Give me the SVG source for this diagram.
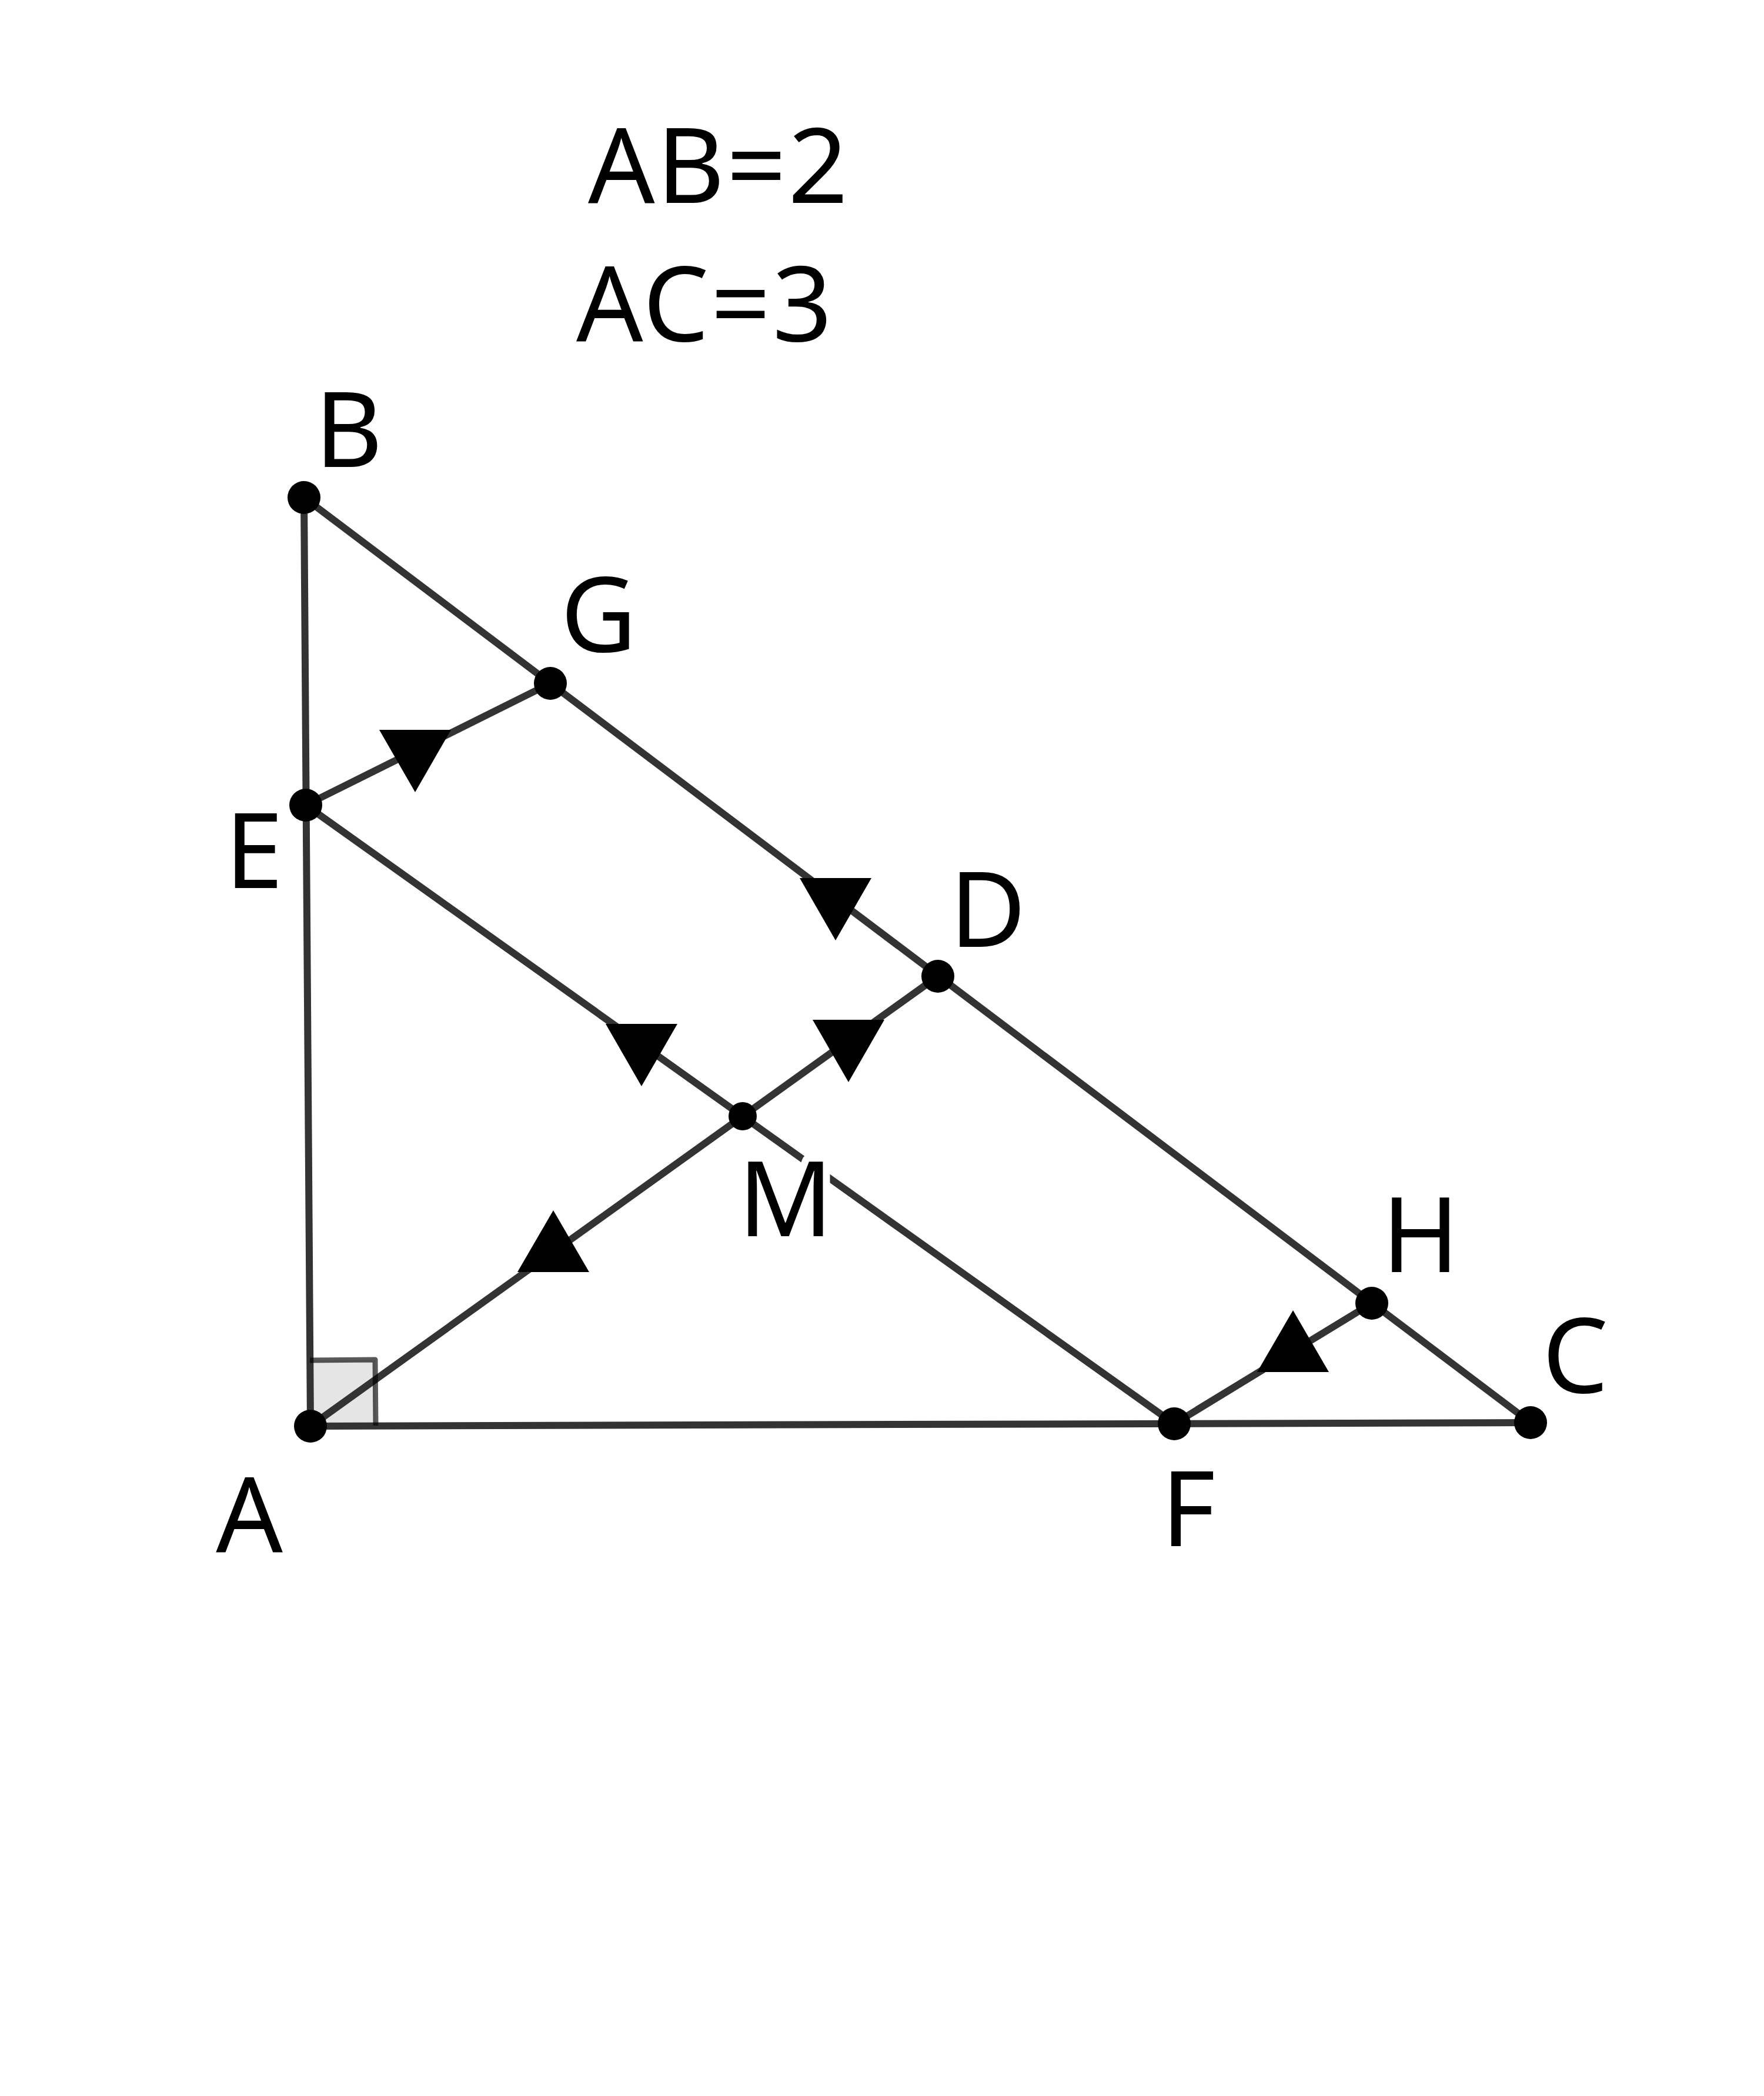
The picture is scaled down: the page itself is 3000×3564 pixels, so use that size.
<svg xmlns="http://www.w3.org/2000/svg" xmlns:xlink="http://www.w3.org/1999/xlink" width="3000" height="3564" viewBox="0 0 3000 3564">
<style>
.seg{stroke:#333333;stroke-width:12;fill:none;stroke-linecap:round}
.dot{fill:#000000}
.lbl{font-family:"Noto Sans","Open Sans","DejaVu Sans",sans-serif;font-size:178px;fill:#000000;text-anchor:middle}
.eq{font-family:"Noto Sans","Open Sans","DejaVu Sans",sans-serif;font-size:178px;fill:#000000;letter-spacing:3px}
.halo{stroke:#ffffff;stroke-width:24px;paint-order:stroke;stroke-linejoin:round}
.arr{fill:#000000}
</style>
<defs>
<polygon id="triDown" points="-61,-35 61,-35 0,71"/>
<polygon id="triUp" points="0,-70 -61,35 61,35"/>
</defs>
<rect width="3000" height="3564" fill="#ffffff"/>

<g id="texts">
<text class="eq" x="1000" y="345">AB=2</text>
<text class="eq" x="980" y="580">AC=3</text>
</g>

<g id="right-angle">
<polygon points="528,2425 527,2313 638,2312 639,2424" fill="#000000" fill-opacity="0.1" stroke="none"/>
</g>

<g id="connectors">
<line class="seg" x1="528" y1="2425" x2="517" y2="846"/>
<line class="seg" x1="517" y1="846" x2="2603" y2="2419"/>
<line class="seg" x1="528" y1="2425" x2="2603" y2="2419"/>
<line class="seg" x1="520" y1="1369" x2="936" y2="1162"/>
<line class="seg" x1="520" y1="1369" x2="1997" y2="2421"/>
<line class="seg" x1="528" y1="2425" x2="1595" y2="1660"/>
<line class="seg" x1="1997" y1="2421" x2="2333" y2="2216"/>
<use class="arr" xlink:href="#triDown" x="706" y="1276"/>
<use class="arr" xlink:href="#triDown" x="1421" y="1528"/>
<use class="arr" xlink:href="#triDown" x="1091" y="1776"/>
<use class="arr" xlink:href="#triDown" x="1443" y="1769"/>
<use class="arr" xlink:href="#triUp" x="941" y="2128"/>
<use class="arr" xlink:href="#triUp" x="2199" y="2298"/>
</g>

<g id="right-angle-edge">
<polyline points="527,2313 638,2312 639,2424" fill="none" stroke="#000000" stroke-opacity="0.65" stroke-width="9" stroke-linejoin="round"/>
</g>

<g id="node-A"><circle class="dot" cx="528" cy="2425" r="28"/><text class="lbl" x="424" y="2639">A</text></g>
<g id="node-B"><circle class="dot" cx="517" cy="846" r="28"/><text class="lbl" x="593" y="794">B</text></g>
<g id="node-C"><circle class="dot" cx="2603" cy="2419" r="28"/><text class="lbl" x="2679" y="2368">C</text></g>
<g id="node-D"><circle class="dot" cx="1595" cy="1660" r="28"/><text class="lbl" x="1680" y="1610">D</text></g>
<g id="node-E"><circle class="dot" cx="520" cy="1369" r="28"/><text class="lbl" x="432" y="1510">E</text></g>
<g id="node-F"><circle class="dot" cx="1997" cy="2421" r="28"/><text class="lbl" x="2021" y="2629">F</text></g>
<g id="node-G"><circle class="dot" cx="936" cy="1162" r="28"/><text class="lbl" x="1018" y="1108">G</text></g>
<g id="node-H"><circle class="dot" cx="2333" cy="2216" r="28"/><text class="lbl" x="2416" y="2163">H</text></g>
<g id="node-M"><circle class="dot" cx="1263" cy="1898" r="24"/><text class="lbl halo" x="1336" y="2102">M</text></g>
</svg>
